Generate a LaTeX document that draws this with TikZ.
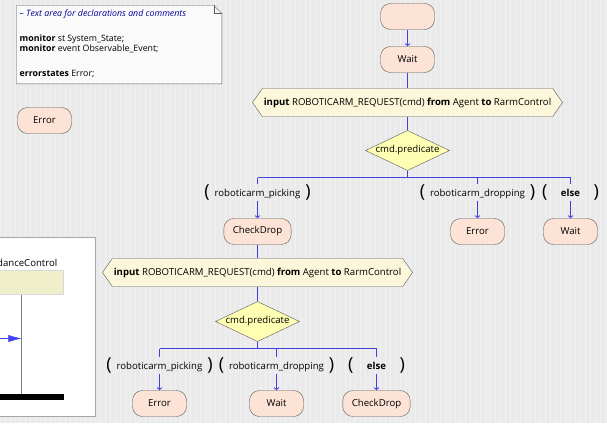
\documentclass[tikz,border=0pt]{standalone}
\usepackage{fontspec}
\setmainfont{Open Sans}
\usepackage{tikz}
\usetikzlibrary{arrows,arrows.meta,positioning,shapes.geometric,shapes.symbols,calc}
\definecolor{fond}{HTML}{EAEAEA}
\definecolor{grille}{HTML}{F1F1F1}
\definecolor{saumon}{HTML}{FCE3D6}
\definecolor{creme}{HTML}{FCF7DA}
\definecolor{jaune}{HTML}{FFFFB4}
\definecolor{trait}{rgb}{0.25,0.25,0.88}
\definecolor{bord}{HTML}{5A5A5A}
\definecolor{acteur}{HTML}{F0EFCB}
\newcommand{\petit}{\fontsize{9.6}{11}\selectfont}
\newcommand{\paren}{\fontsize{18}{18}\selectfont}
\tikzstyle{etat}=[draw=bord, fill=saumon, rounded corners=10pt, minimum width=54pt,
minimum height=26pt, inner xsep=9pt]
\tikzstyle{entree}=[signal, signal to=west and east, signal pointer angle=110,
draw=bord, fill=creme, minimum height=28pt, minimum width=310pt, inner xsep=1pt]
\tikzstyle{choix}=[diamond, draw=bord, fill=jaune, aspect=2.1, inner sep=0pt,
minimum width=83pt, minimum height=40pt]
\tikzstyle{garde}=[inner sep=0pt]
\tikzstyle{line} = [draw=trait, line width=1pt, -to]
\tikzstyle{ligne} = [draw=trait, line width=1pt]
\newcommand{\etat}[2]{node (p#1)[etat]{#2}}
\newcommand{\entree}[1]{node (p#1)[entree]{\textbf{input} ROBOTICARM\_REQUEST(cmd)
\textbf{from} Agent \textbf{to} RarmControl}}
\newcommand{\choix}[1]{node (p#1)[choix]{cmd.predicate}}
\newcommand{\garde}[2]{node (p#1)[garde]{{\paren\raisebox{-1pt}{(}}\hspace{5pt}#2\hspace{5pt}{\paren\raisebox{-1pt}{)}}}}

\begin{document}
\begin{tikzpicture}[x=1pt,y=-1pt,font=\petit]

		% Canvas
		\fill[fond] (-0.5,-0.5) rectangle (606.5,422.5);
		\draw[grille, line width=0.4pt, step=5] (0,0) grid (606,422);
		\useasboundingbox (-0.5,-0.5) rectangle (606.5,422.5);

		% Sequence panel (partly hidden)
		\draw[gray!70, fill=white] (-2,237) rectangle (95,416);
		\node[anchor=base east, inner sep=0pt] at (57,266) {danceControl};
		\draw[black!15, fill=acteur] (-2,270) rectangle (63,294);
		\draw[gray] (21,294) -- (21,394);
		\draw[blue!75, -{Latex[length=13pt,width=7pt]}] (-2,338) -- (21,338);
		\fill[black] (-2,393) rectangle (63,399);

		% Text area
		\node (note)[anchor=north west, minimum width=205pt, minimum height=78pt,
		inner sep=0pt] at (16,5) {};
		\draw[bord, fill=white!96!gray] (note.north west) -- ($(note.north east)+(-8,0)$)
		-- ($(note.north east)+(0,8)$) -- (note.south east) -- (note.south west) -- cycle;
		\draw[bord] ($(note.north east)+(-8,0)$) -- ($(note.north east)+(-8,8)$)
		-- ($(note.north east)+(0,8)$);
		\node[anchor=north west, align=left, inner sep=0pt, font=\fontsize{8.8}{10}\selectfont]
		at ($(note.north west)+(3,4)$)
		{\textcolor{blue!60!black}{\itshape -- Text area for declarations and comments}\\[15pt]
			\textbf{monitor} st System\_State;\\
			\textbf{monitor} event Observable\_Event;\\[15pt]
			\textbf{errorstates} Error;};

		% Draw diagram elements
		\path (44,120) \etat{18}{Error};
		\path (407,16) \etat{0}{};
		\path (407,59) \etat{1}{Wait};
		\path (407,102) \entree{2};
		\path (407,150) \choix{3};
		\path (257,192) \garde{4}{roboticarm\_picking};
		\path (477,192) \garde{5}{roboticarm\_dropping};
		\path (570,192) \garde{6}{\makebox[36pt]{\textbf{else}}};
		\path (257,231) \etat{7}{CheckDrop};
		\path (477,231) \etat{8}{Error};
		\path (570,231) \etat{9}{Wait};
		\path (257,272) \entree{10};
		\path (257,321) \choix{11};
		\path (159,365) \garde{12}{roboticarm\_picking};
		\path (276,365) \garde{13}{roboticarm\_dropping};
		\path (376,365) \garde{14}{\makebox[36pt]{\textbf{else}}};
		\path (159,403) \etat{15}{Error};
		\path (276,403) \etat{16}{Wait};
		\path (376,403) \etat{17}{CheckDrop};
		\coordinate (c1) at (257,177);
		\coordinate (c2) at (570,177);
		\coordinate (c3) at (159,348);
		\coordinate (c4) at (376,348);

		% Draw arrows between elements
		\path [line] (p0.south) -- (p1.north);
		\path [ligne] (p1.south) -- (p2.north) (p2.south) -- (p3.north)
		(p3.south) -- (p3.south |- c1) (c1) -- (c2) (c1) -- (p4.north)
		(p5.north |- c1) -- (p5.north) (c2) -- (p6.north);
		\path [line] (p4.south) -- (p7.north);
		\path [line] (p5.south) -- (p8.north);
		\path [line] (p6.south) -- (p9.north);
		\path [ligne] (p7.south) -- (p10.north) (p10.south) -- (p11.north)
		(p11.south) -- (p11.south |- c3) (c3) -- (c4) (c3) -- (p12.north)
		(p13.north |- c3) -- (p13.north) (c4) -- (p14.north);
		\path [line] (p12.south) -- (p15.north);
		\path [line] (p13.south) -- (p16.north);
		\path [line] (p14.south) -- (p17.north);

\end{tikzpicture}
\end{document}
